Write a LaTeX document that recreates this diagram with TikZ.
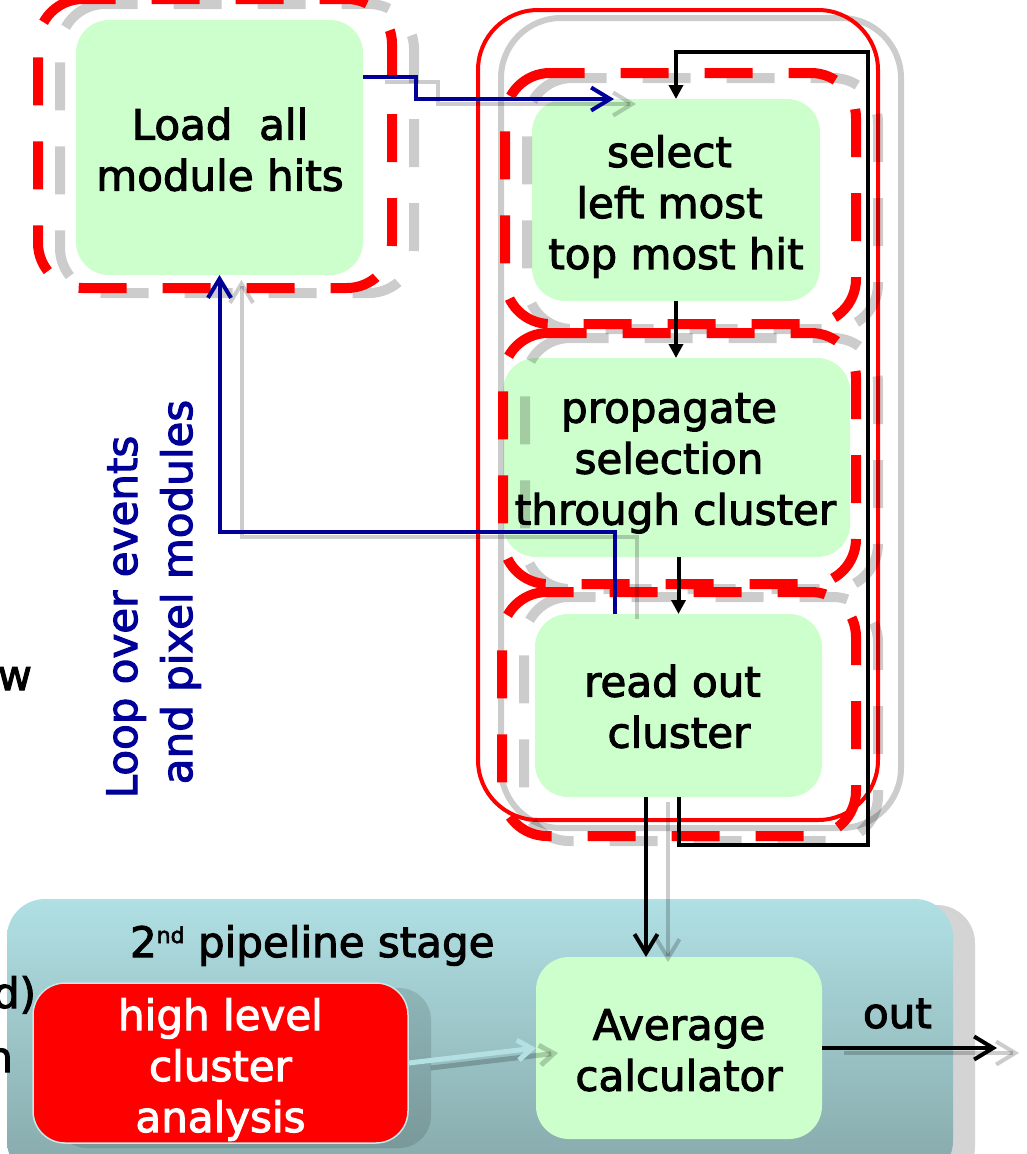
\documentclass[tikz,border=0pt]{standalone}
\usepackage{fontspec}
\setmainfont{DejaVu Sans}[FakeBold=2.5]
\usetikzlibrary{arrows.meta}
\definecolor{boxgreen}{HTML}{CCFFCC}
\definecolor{loopblue}{HTML}{000099}
\definecolor{tealtop}{HTML}{B0E0E4}
\definecolor{tealbot}{HTML}{86A8A9}
\definecolor{cyanarrow}{HTML}{B4E0E4}
\definecolor{hlborder}{HTML}{C8E8EA}
\newcommand{\tsp}{\rule{13pt}{0pt}}
\begin{document}
\begin{tikzpicture}[x=1pt,y=-1pt,
  txt/.style={font=\fontsize{42}{51}\selectfont, inner sep=0pt, outer sep=0pt},
  boxtxt/.style={txt, align=center},
  greenbox/.style={fill=boxgreen, rounded corners=33pt, inner sep=0pt, outer sep=0pt},
  shade/.style={draw=black, draw opacity=0.2},
  shadowshift/.style={transform canvas={shift={(22pt,-5pt)}}},
  reddash/.style={draw=red, line width=10pt, dash pattern=on 48pt off 36pt, rounded corners=45pt},
  conn/.style={line width=4pt},
  filltip/.style={conn, draw=black, -{Triangle[length=14pt,width=14pt]}},
  opentip/.style={conn, -{Straight Barb[length=19pt,width=23pt]}},
]
\useasboundingbox (0,0) rectangle (1026,1154);

% second pipeline stage panel
\fill[black, opacity=0.17, rounded corners=38pt] (29,905) rectangle (975,1185);
\node[top color=tealtop, bottom color=tealbot, rounded corners=38pt, minimum width=946pt, minimum height=280pt, inner sep=0pt] (stage) at (480,1039) {};

% cut-off text at the left border
\node[txt, anchor=base east] (cutw) at (32,690) {w};
\node[txt, anchor=base east] (cutd) at (36,1008) {d)};
\node[txt, anchor=base east] (cutn) at (13,1072) {n};

% high level cluster analysis
\fill[black, opacity=0.12, rounded corners=32pt] (55,988) rectangle (431,1148);
\node[fill=red, draw=hlborder, line width=1.5pt, rounded corners=32pt, minimum width=375pt, minimum height=160pt, inner sep=0pt] (high) at (220.5,1063) {};
\node[boxtxt, text=white] (hightext) at (220.5,1069.4) {high level\\cluster\\analysis};

% green boxes
\node[greenbox, minimum width=287pt, minimum height=255pt] (load) at (219.5,147.5) {};
\node[boxtxt] (loadtext) at (220,149.5) {Load\ \ all\\module hits};
\node[greenbox, minimum width=288pt, minimum height=202pt] (sel) at (676,200) {};
\node[boxtxt] (seltext) at (676,206.4) {select\tsp\\left most\tsp\\top most hit};
\node[greenbox, minimum width=347pt, minimum height=199pt] (prop) at (676.5,457.5) {};
\node[boxtxt] (proptext) at (675.5,463.3) {propagate\tsp\\selection\tsp\\through cluster};
\node[greenbox, minimum width=287pt, minimum height=183pt] (ro) at (678.5,705.5) {};
\node[boxtxt] (rotext) at (679,706.5) {read out\tsp\\cluster};
\node[greenbox, minimum width=286pt, minimum height=182pt] (avg) at (679,1048) {};
\node[boxtxt] (avgtext) at (679,1050.2) {Average\\calculator};

% outer solid frame
\draw[black, draw opacity=0.2, line width=6pt, rounded corners=60pt] (501,18) rectangle (901,828);
\draw[red, line width=4pt, rounded corners=60pt] (478,10) rectangle (878,820);

% dashed frames: grey shadows, then red
\draw[reddash, shade, shadowshift] (83,-1) -- (38,-1) -- (38,288) -- (392,288) -- (392,-1) -- (83,-1);
\draw[reddash, shade, shadowshift] (550,73) -- (505,73) -- (505,324) -- (856,324) -- (856,73) -- (550,73);
\draw[reddash, shade, shadowshift] (548,333) -- (503,333) -- (503,584) -- (856,584) -- (856,333) -- (548,333);
\draw[reddash, shade, shadowshift] (547,592) -- (502,592) -- (502,836) -- (856,836) -- (856,592) -- (547,592);
\draw[reddash] (83,-1) -- (38,-1) -- (38,288) -- (392,288) -- (392,-1) -- (83,-1);
\draw[reddash] (550,73) -- (505,73) -- (505,324) -- (856,324) -- (856,73) -- (550,73);
\draw[reddash] (548,333) -- (503,333) -- (503,584) -- (856,584) -- (856,333) -- (548,333);
\draw[reddash] (547,592) -- (502,592) -- (502,836) -- (856,836) -- (856,592) -- (547,592);

% blue: load -> select
\coordinate (loadOut) at (363,77);
\coordinate (knee1) at (416,88);
\coordinate (selIn) at (614,99);
\draw[opentip, shade, shadowshift] (loadOut) -| (knee1) |- (selIn);
\draw[opentip, draw=loopblue] (loadOut) -| (knee1) |- (selIn);

% blue loop back to load
\coordinate (roBlue) at (615,614);
\coordinate (loopTurn) at (615,532);
\draw[opentip, shade, shadowshift] (roBlue) -- (loopTurn) -| (load.south);
\draw[opentip, draw=loopblue] (roBlue) -- (loopTurn) -| (load.south);

% black pipeline arrows
\draw[filltip] (sel.south) -- (sel.south |- prop.north);
\draw[filltip] (ro.north |- prop.south) -- (ro.north);
\coordinate (loopBR) at (868,845);
\coordinate (loopTR) at (868,52);
\draw[filltip] (ro.south) |- (loopBR) -- (loopTR) -| (sel.north);

% readout -> average
\coordinate (roOut) at (646,797);
\draw[opentip, shade, shadowshift] (roOut) -- (roOut |- avg.north);
\draw[opentip, draw=black] (roOut) -- (roOut |- avg.north);

% high level -> average
\draw[line width=5pt, shade, shadowshift, -{Straight Barb[length=14pt,width=20pt]}] (high.east) -- (avg.west);
\draw[line width=5pt, draw=cyanarrow, -{Straight Barb[length=14pt,width=20pt]}] (high.east) -- (avg.west);

% out
\coordinate (outEnd) at (997,1048);
\draw[opentip, shade, shadowshift] (avg.east) -- (outEnd);
\draw[opentip, draw=black] (avg.east) -- (outEnd);

% labels
\node[txt, anchor=base west] (stagelabel) at (130,957) {2\raisebox{14pt}{\fontsize{22}{22}\selectfont nd} pipeline stage};
\node[txt, anchor=base west] (outlabel) at (863,1028) {out};
\node[txt, text=loopblue, rotate=90, anchor=base] (loop1) at (137,617) {Loop over events};
\node[txt, text=loopblue, rotate=90, anchor=base] (loop2) at (192,592) {and pixel modules};
\end{tikzpicture}
\end{document}
